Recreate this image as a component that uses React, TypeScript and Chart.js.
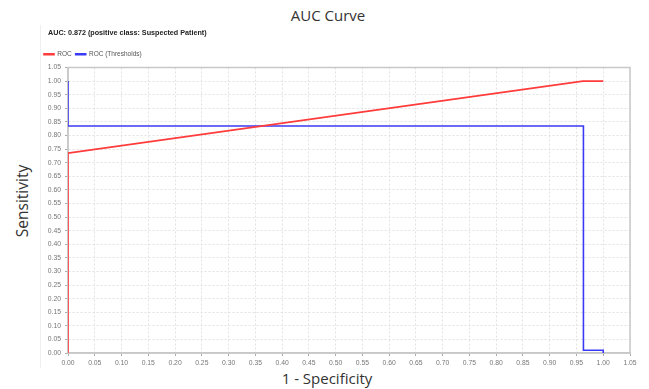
import React, { useEffect, useRef } from "react";
import { Chart, registerables } from "chart.js";

Chart.register(...registerables);

const chartTitle = "AUC Curve";
const subTitle = "AUC: 0.872 (positive class: Suspected Patient)";
const xAxisTitle = "1 - Specificity";
const yAxisTitle = "Sensitivity";

const seriesNames = ["ROC", "ROC (Thresholds)"];
const rocX = [0, 0, 0.962, 1.0];
const rocY = [0, 0.735, 1.0, 1.0];
const thrX = [0, 0, 0.963, 0.963, 1.0, 1.0];
const thrY = [1.0, 0.835, 0.835, 0.01, 0.01, 0.0];

const axisMin = 0;
const axisMax = 1.05;
const axisStep = 0.05;

const plotBorder = {
  id: "plotBorder",
  beforeDatasetsDraw(chart: any) {
    const { ctx, chartArea } = chart;
    ctx.save();
    ctx.strokeStyle = "#c8c8c8";
    ctx.lineWidth = 1.5;
    ctx.strokeRect(chartArea.left, chartArea.top, chartArea.right - chartArea.left, chartArea.bottom - chartArea.top);
    ctx.restore();
  },
};

export default function App() {
  const ref = useRef<HTMLCanvasElement | null>(null);

  useEffect(() => {
    if (!ref.current) return;
    const toPts = (xs: number[], ys: number[]) => xs.map((x, i) => ({ x, y: ys[i] }));
    const tickFont = { family: "'Liberation Sans', Arial, sans-serif", size: 6.8 };
    const chart = new Chart(ref.current, {
      type: "scatter",
      data: {
        datasets: [
          {
            label: seriesNames[0],
            data: toPts(rocX, rocY),
            showLine: true,
            borderColor: "#ff3b3b",
            backgroundColor: "#ff3b3b",
            borderWidth: 1.6,
            pointRadius: 0,
            tension: 0,
          },
          {
            label: seriesNames[1],
            data: toPts(thrX, thrY),
            showLine: true,
            borderColor: "#3a3af5",
            backgroundColor: "#3a3af5",
            borderWidth: 1.6,
            pointRadius: 0,
            tension: 0,
          },
        ],
      },
      options: {
        animation: false,
        responsive: false,
        layout: { padding: { top: 22, right: 10, left: 0, bottom: 0 } },
        plugins: {
          legend: {
            display: true,
            position: "top",
            align: "start",
            labels: {
              boxWidth: 10,
              boxHeight: 1,
              padding: 4,
              color: "#555",
              font: { family: "'Liberation Sans', Arial, sans-serif", size: 6.5 },
            },
          },
          title: { display: false },
          tooltip: { enabled: false },
        },
        scales: {
          x: {
            type: "linear",
            min: axisMin,
            max: axisMax,
            ticks: {
              stepSize: axisStep,
              autoSkip: false,
              maxRotation: 0,
              color: "#777",
              font: tickFont,
              padding: 3,
              callback: (v: any) => Number(v).toFixed(2),
            },
            grid: {
              color: "#e2e2e2",
              tickColor: "#aaa",
              tickLength: 3,
              drawTicks: true,
            },
            border: { color: "#c8c8c8", width: 1.5, dash: [2, 2] },
            afterFit: (s: any) => {
              s.height = 15;
            },
          },
          y: {
            type: "linear",
            min: axisMin,
            max: axisMax,
            ticks: {
              stepSize: axisStep,
              autoSkip: false,
              color: "#777",
              font: tickFont,
              padding: 4,
              callback: (v: any) => Number(v).toFixed(2),
            },
            grid: {
              color: "#e2e2e2",
              tickColor: "#aaa",
              tickLength: 3,
            },
            border: { color: "#c8c8c8", width: 1.5, dash: [2, 2] },
            afterFit: (s: any) => {
              s.width = 28;
            },
          },
        },
      },
      plugins: [plotBorder],
    } as any);
    return () => chart.destroy();
  }, []);

  const openSans = "'Open Sans', 'Noto Sans', sans-serif";
  return (
    <div style={{ position: "fixed", left: 0, top: 0, width: 649, height: 389, background: "#fff", overflow: "hidden" }}>
      <div
        style={{
          position: "absolute",
          left: 0,
          width: 656,
          top: 5,
          textAlign: "center",
          fontFamily: openSans,
          fontSize: 15,
          lineHeight: "20px",
          color: "#333",
        }}
      >
        {chartTitle}
      </div>
      <div
        style={{
          position: "absolute",
          left: 40,
          top: 25,
          width: 1,
          height: 343,
          background: "#efefef",
        }}
      />
      <canvas ref={ref} width={600} height={343} style={{ position: "absolute", left: 40, top: 25, width: 600, height: 343 }} />
      <div
        style={{
          position: "absolute",
          left: 48,
          top: 28,
          fontFamily: "'Liberation Sans', Arial, sans-serif",
          fontWeight: "bold",
          fontSize: 7.2,
          lineHeight: "10px",
          color: "#222",
          whiteSpace: "nowrap",
        }}
      >
        {subTitle}
      </div>
      <div
        style={{
          position: "absolute",
          left: 22,
          top: 201,
          transform: "translate(-50%, -50%) rotate(-90deg)",
          fontFamily: openSans,
          fontSize: 15.5,
          lineHeight: "20px",
          color: "#333",
          whiteSpace: "nowrap",
        }}
      >
        {yAxisTitle}
      </div>
      <div
        style={{
          position: "absolute",
          left: 327,
          top: 378,
          transform: "translate(-50%, -50%)",
          fontFamily: openSans,
          fontSize: 15,
          lineHeight: "20px",
          color: "#333",
          whiteSpace: "nowrap",
        }}
      >
        {xAxisTitle}
      </div>
    </div>
  );
}
